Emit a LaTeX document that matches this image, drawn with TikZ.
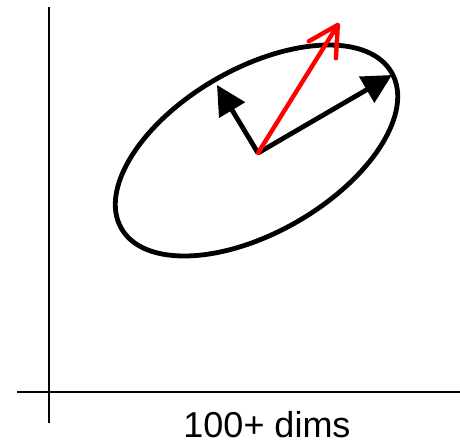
\documentclass[tikz,border=0pt]{standalone}
\usepackage{fontspec}
\setmainfont{Liberation Sans}
\usetikzlibrary{arrows.meta}

\begin{document}
\begin{tikzpicture}[x=0.75pt, y=-0.75pt,
  axis/.style = {line width=1.8pt},
  pc/.style = {line width=3.6pt, -{Triangle[length=22pt, width=22pt]}},
  mean/.style = {line width=3.3pt, red, line cap=round,
    -{Straight Barb[length=22pt, width=24pt, line width=3.3pt, round]}},
  every node/.style = {font=\fontsize{27pt}{32pt}\selectfont, inner sep=0pt}]
  \useasboundingbox (0,0) rectangle (460,444);
  % axes
  \coordinate (ytop) at (49,7);
  \coordinate (ybot) at (49,423);
  \coordinate (xl) at (17,392);
  \coordinate (xr) at (460,392);
  \draw[axis] (ytop) -- (ybot);
  \draw[axis] (xl) -- (xr);
  \node[anchor=base] (dims) at (267,437) {100+ dims};
  % data cloud
  \coordinate (mid) at (256.5,150.5);
  \draw[line width=3.6pt, rotate around={30:(mid)}] (mid) ellipse [x radius=156, y radius=82];
  % directions
  \coordinate (c) at (258,153);
  \coordinate (major) at (392,75);
  \coordinate (minor) at (217,85);
  \coordinate (top) at (339,23);
  \draw[pc] (c) -- (major);
  \draw[pc] (c) -- (minor);
  \draw[mean] (c) -- (top);
\end{tikzpicture}
\end{document}
